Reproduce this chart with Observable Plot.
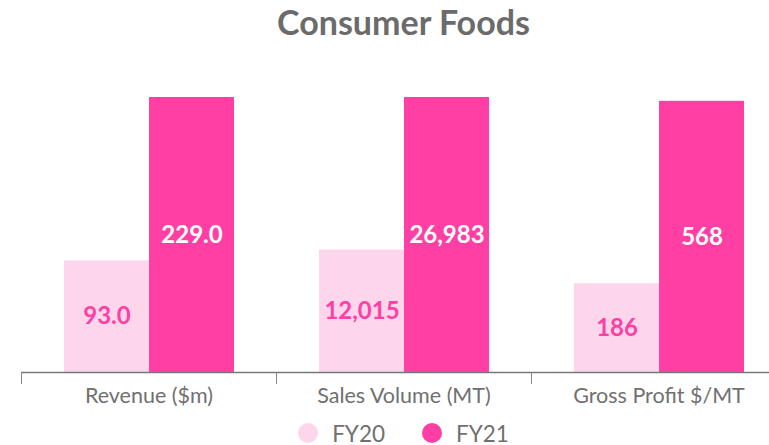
<!DOCTYPE html>
<html><head><meta charset="utf-8">
<script src="https://cdn.jsdelivr.net/npm/d3@7"></script>
<script src="https://cdn.jsdelivr.net/npm/@observablehq/plot@0.6"></script>
<style>
body{margin:0;background:#fff;font-family:Lato,"Open Sans",sans-serif;}
#wrap{width:769px;height:445px;overflow:hidden;position:relative;}
#title{margin-left:21px;width:765px;text-align:center;font-size:34px;font-weight:700;color:#6b6b6b;height:48px;line-height:44px;}
#chart svg{display:block;overflow:visible;}
#legend{margin-left:21px;width:765px;height:50px;display:flex;justify-content:center;align-items:center;gap:37px;font-size:22.5px;color:#707070;}
.item{display:flex;align-items:center;}
.sw{width:20px;height:20px;border-radius:50%;margin-right:14px;}
</style></head>
<body>
<div id="wrap">
<div id="title">Consumer Foods</div>
<div id="chart"></div>
<div id="legend"></div>
</div>
<script>
const groups = ["Revenue ($m)", "Sales Volume (MT)", "Gross Profit $/MT"];
const series = ["FY20", "FY21"];
const fy20 = [93.0, 12015, 186];
const fy21 = [229.0, 26983, 568];
// each group is drawn on its own independent scale (max of that group's axis)
const groupScale = [229, 26983, 576];
const groupFormats = [d3.format(".1f"), d3.format(","), d3.format(",")];
const colors = ["#fdd6ec", "#ff3fa4"];

const data = groups.flatMap((g, i) => [
  {group: g, series: "FY20", value: fy20[i], norm: fy20[i] / groupScale[i], label: groupFormats[i](fy20[i])},
  {group: g, series: "FY21", value: fy21[i], norm: fy21[i] / groupScale[i], label: groupFormats[i](fy21[i])}
]);

const chart = Plot.plot({
  width: 769, height: 360,
  marginTop: 49, marginBottom: 36, marginLeft: 21, marginRight: 0,
  style: {fontFamily: "Lato, 'Open Sans', sans-serif", background: "transparent"},
  fx: {domain: groups, range: [21, 786], padding: 0, label: null},
  x: {domain: series, paddingInner: 0, paddingOuter: 0.5, axis: null},
  y: {domain: [0, 1], axis: null},
  color: {domain: series, range: colors},
  marks: [
    Plot.barY(data, {fx: "group", x: "series", y: "norm", fill: "series"}),
    Plot.text(data.filter(d => d.series === "FY20"), {fx: "group", x: "series", y: d => d.norm / 2, text: "label", fill: "#ff3fa4", fontSize: 24, fontWeight: 700}),
    Plot.text(data.filter(d => d.series === "FY21"), {fx: "group", x: "series", y: d => d.norm / 2, text: "label", fill: "white", fontSize: 24, fontWeight: 700}),
    Plot.ruleY([0], {stroke: "#777", strokeWidth: 1.5}),
    Plot.axisFx({anchor: "bottom", tickSize: 12, tickFormat: () => "", dx: -127.5, label: null, stroke: "#888"}),
    Plot.axisFx({anchor: "bottom", tickSize: 0, tickPadding: 15, fontSize: 21.5, label: null, fill: "#707070"})
  ]
});
document.getElementById("chart").appendChild(chart);

const legend = document.getElementById("legend");
series.forEach((s, i) => {
  const item = document.createElement("div");
  item.className = "item";
  item.innerHTML = `<span class="sw" style="background:${colors[i]}"></span><span>${s}</span>`;
  legend.appendChild(item);
});
</script>
</body></html>
